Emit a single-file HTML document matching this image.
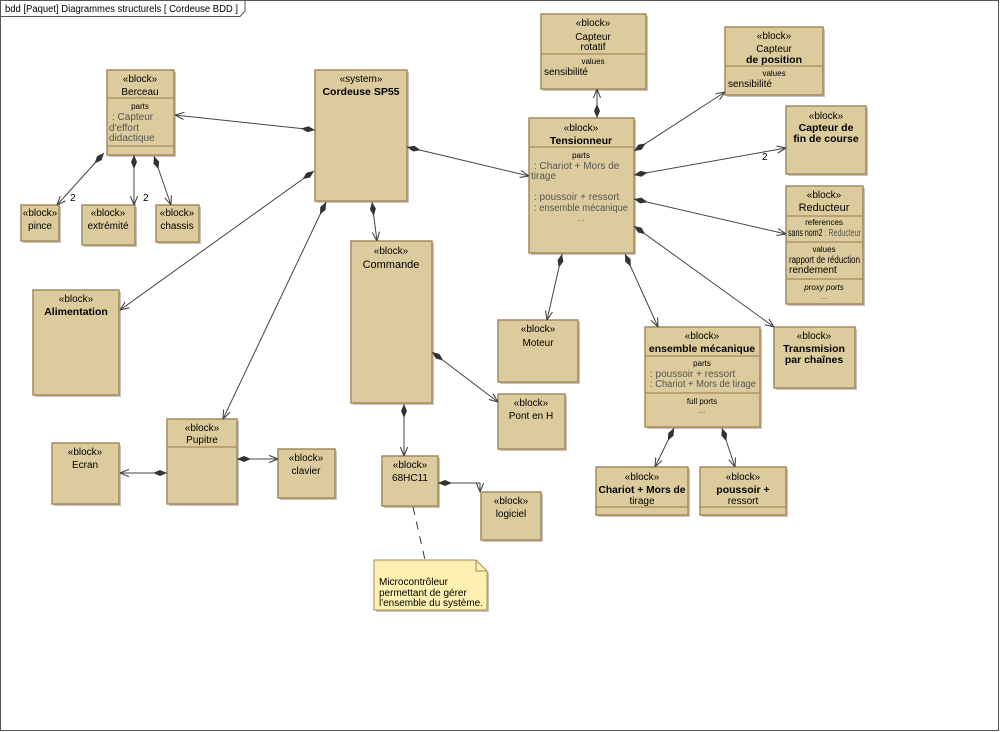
<!DOCTYPE html>
<html><head><meta charset="utf-8"><style>
html,body{margin:0;padding:0;background:#fff;}
svg{display:block;font-family:"Liberation Sans",sans-serif;}
.b{fill:#dccb9c;stroke:#a48a5c;stroke-width:1.5;}
.s{fill:#c4c4c4;}
.l{stroke:#a48a5c;stroke-width:1.2;}
.c{stroke:#444;stroke-width:1;fill:none;}
text{font-size:10px;fill:#000;}
.t{font-size:11px;}
.bo{font-weight:bold;font-size:10.5px;}
.sm{font-size:8px;}
.g{fill:#555;}
</style></head><body>
<svg width="1000" height="732" viewBox="0 0 1000 732">
<rect x="0.5" y="0.5" width="998" height="730" fill="#fff" stroke="#555"/>
<path d="M0.5 16.5 H240 L245 11 V0.5" fill="none" stroke="#555"/>
<text x="5" y="12" textLength="233" lengthAdjust="spacingAndGlyphs">bdd  [Paquet] Diagrammes structurels [ Cordeuse BDD ]</text>

<defs>
<marker id="a" viewBox="0 0 10 10" refX="10" refY="5" markerWidth="9" markerHeight="9" orient="auto"><path d="M0 1 L10 5 L0 9" fill="none" stroke="#444" stroke-width="1.2"/></marker>
<marker id="dm" viewBox="0 0 14 8" refX="0" refY="4" markerWidth="14" markerHeight="8" orient="auto" markerUnits="userSpaceOnUse"><path d="M0 4 L7 1 L14 4 L7 7 Z" fill="#333"/></marker>
</defs>

<g>
<rect class="s" x="109" y="72" width="67" height="85"/><rect class="b" x="107" y="70" width="67" height="85"/>
<line class="l" x1="107" y1="98" x2="174" y2="98"/><line class="l" x1="107" y1="146" x2="174" y2="146"/>
<text x="140" y="82" text-anchor="middle">«block»</text><text x="140" y="95" text-anchor="middle">Berceau</text>
<text x="140" y="109" text-anchor="middle" class="sm">parts</text>
<text x="112" y="120" class="g">: Capteur</text><text x="109" y="131" class="g">d'effort</text><text x="109" y="141" class="g">didactique</text>

<rect class="s" x="317" y="72" width="92" height="131"/><rect class="b" x="315" y="70" width="92" height="131"/>
<text x="361" y="82" text-anchor="middle">«system»</text><text x="361" y="95" text-anchor="middle" class="bo">Cordeuse SP55</text>

<rect class="s" x="23" y="207" width="38" height="36"/><rect class="b" x="21" y="205" width="38" height="36"/>
<text x="40" y="216" text-anchor="middle">«block»</text><text x="40" y="229" text-anchor="middle">pince</text>
<rect class="s" x="84" y="207" width="53" height="40"/><rect class="b" x="82" y="205" width="53" height="40"/>
<text x="108" y="216" text-anchor="middle">«block»</text><text x="108" y="229" text-anchor="middle">extrémité</text>
<rect class="s" x="158" y="207" width="43" height="37"/><rect class="b" x="156" y="205" width="43" height="37"/>
<text x="177" y="216" text-anchor="middle">«block»</text><text x="177" y="229" text-anchor="middle">chassis</text>

<rect class="s" x="35" y="292" width="86" height="105"/><rect class="b" x="33" y="290" width="86" height="105"/>
<text x="76" y="302" text-anchor="middle">«block»</text><text x="76" y="315" text-anchor="middle" class="bo">Alimentation</text>

<rect class="s" x="353" y="243" width="81" height="162"/><rect class="b" x="351" y="241" width="81" height="162"/>
<text x="391" y="254" text-anchor="middle">«block»</text><text x="391" y="268" text-anchor="middle" class="t">Commande</text>

<rect class="s" x="169" y="421" width="70" height="85"/><rect class="b" x="167" y="419" width="70" height="85"/>
<line class="l" x1="167" y1="447" x2="237" y2="447"/>
<text x="202" y="431" text-anchor="middle">«block»</text><text x="202" y="443" text-anchor="middle">Pupitre</text>

<rect class="s" x="54" y="445" width="67" height="61"/><rect class="b" x="52" y="443" width="67" height="61"/>
<text x="85" y="455" text-anchor="middle">«block»</text><text x="85" y="468" text-anchor="middle">Ecran</text>

<rect class="s" x="280" y="451" width="57" height="49"/><rect class="b" x="278" y="449" width="57" height="49"/>
<text x="306" y="461" text-anchor="middle">«block»</text><text x="306" y="474" text-anchor="middle">clavier</text>

<rect class="s" x="384" y="458" width="56" height="50"/><rect class="b" x="382" y="456" width="56" height="50"/>
<text x="410" y="468" text-anchor="middle">«block»</text><text x="410" y="481" text-anchor="middle">68HC11</text>

<rect class="s" x="483" y="494" width="60" height="48"/><rect class="b" x="481" y="492" width="60" height="48"/>
<text x="511" y="504" text-anchor="middle">«block»</text><text x="511" y="517" text-anchor="middle">logiciel</text>

<path d="M376 562 H478 L489 573 V612 H376 Z" fill="#c4c4c4"/>
<path d="M374 560 H476 L487 571 V610 H374 Z" fill="#fdf0b0" stroke="#a48a5c"/>
<path d="M476 560 V571 H487" fill="none" stroke="#a48a5c"/>
<text x="379" y="585">Microcontrôleur</text><text x="379" y="596">permettant de gérer</text><text x="379" y="606" textLength="104" lengthAdjust="spacingAndGlyphs">l'ensemble du système.</text>

<rect class="s" x="543" y="16" width="105" height="75"/><rect class="b" x="541" y="14" width="105" height="75"/>
<line class="l" x1="541" y1="54" x2="646" y2="54"/>
<text x="593" y="26" text-anchor="middle">«block»</text><text x="593" y="40" text-anchor="middle">Capteur</text><text x="593" y="50" text-anchor="middle">rotatif</text>
<text x="593" y="64" text-anchor="middle" class="sm">values</text><text x="544" y="75">sensibilité</text>

<rect class="s" x="531" y="120" width="105" height="135"/><rect class="b" x="529" y="118" width="105" height="135"/>
<line class="l" x1="529" y1="147" x2="634" y2="147"/>
<text x="581" y="131" text-anchor="middle">«block»</text><text x="581" y="144" text-anchor="middle" class="bo">Tensionneur</text>
<text x="581" y="158" text-anchor="middle" class="sm">parts</text>
<text x="534" y="169" class="g">: Chariot + Mors de</text><text x="531" y="179" class="g">tirage</text>
<text x="534" y="200" class="g">: poussoir + ressort</text><text x="534" y="211" class="g" textLength="94" lengthAdjust="spacingAndGlyphs">: ensemble mécanique</text>
<text x="581" y="221" text-anchor="middle" class="sm g">...</text>

<rect class="s" x="727" y="29" width="98" height="68"/><rect class="b" x="725" y="27" width="98" height="68"/>
<line class="l" x1="725" y1="66" x2="823" y2="66"/>
<text x="774" y="39" text-anchor="middle">«block»</text><text x="774" y="52" text-anchor="middle">Capteur</text><text x="774" y="63" text-anchor="middle" class="bo">de position</text>
<text x="774" y="76" text-anchor="middle" class="sm">values</text><text x="728" y="87">sensibilité</text>

<rect class="s" x="788" y="108" width="80" height="68"/><rect class="b" x="786" y="106" width="80" height="68"/>
<text x="826" y="119" text-anchor="middle">«block»</text><text x="826" y="131" text-anchor="middle" class="bo">Capteur de</text><text x="826" y="142" text-anchor="middle" class="bo">fin de course</text>

<rect class="s" x="788" y="188" width="77" height="118"/><rect class="b" x="786" y="186" width="77" height="118"/>
<line class="l" x1="786" y1="216" x2="863" y2="216"/><line class="l" x1="786" y1="242" x2="863" y2="242"/><line class="l" x1="786" y1="279" x2="863" y2="279"/>
<text x="824" y="198" text-anchor="middle">«block»</text><text x="824" y="211" text-anchor="middle" class="t">Reducteur</text>
<text x="824" y="225" text-anchor="middle" class="sm">references</text><text x="788" y="236" textLength="73" lengthAdjust="spacingAndGlyphs">sans nom2 <tspan class="g">: Reducteur</tspan></text>
<text x="824" y="252" text-anchor="middle" class="sm">values</text><text x="789" y="263" textLength="71" lengthAdjust="spacingAndGlyphs">rapport de réduction</text><text x="789" y="273">rendement</text>
<text x="824" y="290" text-anchor="middle" class="sm" font-style="italic">proxy ports</text><text x="824" y="299" text-anchor="middle" class="sm g">...</text>

<rect class="s" x="500" y="322" width="80" height="62"/><rect class="b" x="498" y="320" width="80" height="62"/>
<text x="538" y="332" text-anchor="middle">«block»</text><text x="538" y="346" text-anchor="middle">Moteur</text>

<rect class="s" x="647" y="329" width="115" height="100"/><rect class="b" x="645" y="327" width="115" height="100"/>
<line class="l" x1="645" y1="356" x2="760" y2="356"/><line class="l" x1="645" y1="393" x2="760" y2="393"/>
<text x="702" y="339" text-anchor="middle">«block»</text><text x="702" y="352" text-anchor="middle" class="bo">ensemble mécanique</text>
<text x="702" y="366" text-anchor="middle" class="sm">parts</text>
<text x="650" y="377" class="g">: poussoir + ressort</text><text x="650" y="387" class="g" textLength="106" lengthAdjust="spacingAndGlyphs">: Chariot + Mors de tirage</text>
<text x="702" y="404" text-anchor="middle" class="sm">full ports</text><text x="702" y="413" text-anchor="middle" class="sm g">...</text>

<rect class="s" x="776" y="329" width="81" height="61"/><rect class="b" x="774" y="327" width="81" height="61"/>
<text x="814" y="339" text-anchor="middle">«block»</text><text x="814" y="352" text-anchor="middle" class="bo">Transmision</text><text x="814" y="363" text-anchor="middle" class="bo">par chaînes</text>

<rect class="s" x="500" y="396" width="67" height="55"/><rect class="b" x="498" y="394" width="67" height="55"/>
<text x="531" y="406" text-anchor="middle">«block»</text><text x="531" y="419" text-anchor="middle">Pont en H</text>

<rect class="s" x="598" y="469" width="92" height="48"/><rect class="b" x="596" y="467" width="92" height="48"/>
<line class="l" x1="596" y1="507" x2="688" y2="507"/>
<text x="642" y="480" text-anchor="middle">«block»</text><text x="642" y="493" text-anchor="middle" class="bo" textLength="87" lengthAdjust="spacingAndGlyphs">Chariot + Mors de</text><text x="642" y="504" text-anchor="middle">tirage</text>

<rect class="s" x="702" y="469" width="86" height="48"/><rect class="b" x="700" y="467" width="86" height="48"/>
<line class="l" x1="700" y1="507" x2="786" y2="507"/>
<text x="743" y="480" text-anchor="middle">«block»</text><text x="743" y="493" text-anchor="middle" class="bo">poussoir +</text><text x="743" y="504" text-anchor="middle">ressort</text>
</g>

<g class="c" marker-start="url(#dm)" marker-end="url(#a)">
<line x1="315" y1="130" x2="175" y2="115"/>
<line x1="104" y1="153" x2="57" y2="205"/>
<line x1="134" y1="155" x2="134" y2="205"/>
<line x1="154" y1="156" x2="171" y2="205"/>
<line x1="314" y1="171" x2="120" y2="310"/>
<line x1="326" y1="202" x2="223" y2="419"/>
<line x1="372" y1="202" x2="377" y2="241"/>
<line x1="407" y1="147" x2="529" y2="176"/>
<line x1="432" y1="352" x2="498" y2="402"/>
<line x1="404" y1="404" x2="404" y2="456"/>
<line x1="167" y1="473" x2="120" y2="473"/>
<line x1="237" y1="459" x2="278" y2="459"/>
<line x1="597" y1="118" x2="597" y2="89"/>
<line x1="634" y1="151" x2="725" y2="92"/>
<line x1="634" y1="175" x2="786" y2="148"/>
<line x1="634" y1="199" x2="786" y2="234"/>
<line x1="634" y1="226" x2="774" y2="327"/>
<line x1="562" y1="254" x2="547" y2="320"/>
<line x1="625" y1="254" x2="658" y2="327"/>
<line x1="674" y1="428" x2="655" y2="467"/>
<line x1="722" y1="428" x2="735" y2="467"/>
<polyline points="438,483 480,483 480,492"/>
</g>
<line x1="413" y1="507" x2="425" y2="560" stroke="#333" stroke-dasharray="8,7"/>
<text x="70" y="201">2</text><text x="143" y="201">2</text><text x="762" y="160">2</text>
</svg>
</body></html>
